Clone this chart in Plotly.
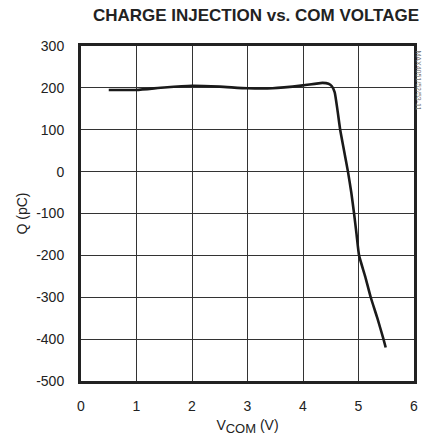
import plotly.graph_objects as go

v_com = [0.5, 1.0, 1.5, 2.0, 2.5, 3.0, 3.45, 4.0, 4.35, 4.46, 4.52, 4.57, 4.62, 4.67, 4.74, 4.81, 4.87, 4.92, 4.965, 5.01, 5.12, 5.22, 5.34, 5.45, 5.49]
q_pc = [195, 195, 201, 205, 203, 199, 199, 206, 212, 210, 204, 190, 148, 100, 50, 0, -50, -100, -150, -200, -250, -300, -350, -400, -420]

x_ticks = [0, 1, 2, 3, 4, 5, 6]
y_ticks = [300, 200, 100, 0, -100, -200, -300, -400, -500]
y_labels = ["300", "200", "100", "0", "-100", "-200", "-300", "-400", "-500"]

font_fam = "Liberation Sans Narrow, Arial Narrow, Liberation Sans, Arial, sans-serif"

fig = go.Figure()
fig.add_trace(go.Scatter(x=v_com, y=q_pc, mode="lines",
                         line=dict(color="#1a1a1a", width=2.6, shape="spline", smoothing=0.5),
                         showlegend=False, hoverinfo="skip"))

fig.update_layout(
    width=425, height=445,
    margin=dict(l=81, r=7, t=46, b=64),
    paper_bgcolor="white", plot_bgcolor="white",
    font=dict(family=font_fam, size=14, color="#222"),
    title=dict(text="<b>CHARGE INJECTION vs. COM VOLTAGE</b>", x=256/425, xanchor="center",
               y=1 - 9/445, yanchor="top", font=dict(size=17, color="#222", family=font_fam)),
)
fig.update_xaxes(range=[0, 6], tickvals=x_ticks, showgrid=True, gridcolor="#333", gridwidth=1,
                 showline=True, linecolor="#222", linewidth=3, mirror=True, zeroline=False,
                 ticks="", ticklabelstandoff=10, ticklabeloverflow="allow",
                 title=dict(text="V<sub><span style='font-size:13px'>COM</span></sub> (V)",
                            standoff=8, font=dict(size=14)))
fig.update_yaxes(range=[-500, 300], tickvals=y_ticks, ticktext=y_labels, showgrid=True,
                 gridcolor="#333", gridwidth=1,
                 showline=True, linecolor="#222", linewidth=3, mirror=True, zeroline=False,
                 ticks="", ticklabelstandoff=11, ticklabeloverflow="allow",
                 title=dict(text="Q (pC)", standoff=6, font=dict(size=14)))

fig.add_annotation(text="MAX4051/52/53-11", xref="paper", yref="paper", x=1.0, y=1.0,
                   xanchor="left", yanchor="top", xshift=-1, yshift=-2, showarrow=False,
                   textangle=90, font=dict(size=7, color="#777"))

fig.write_html("out.html", config={"displayModeBar": False},
               post_script="document.body.style.margin='0';document.body.style.padding='0';")
